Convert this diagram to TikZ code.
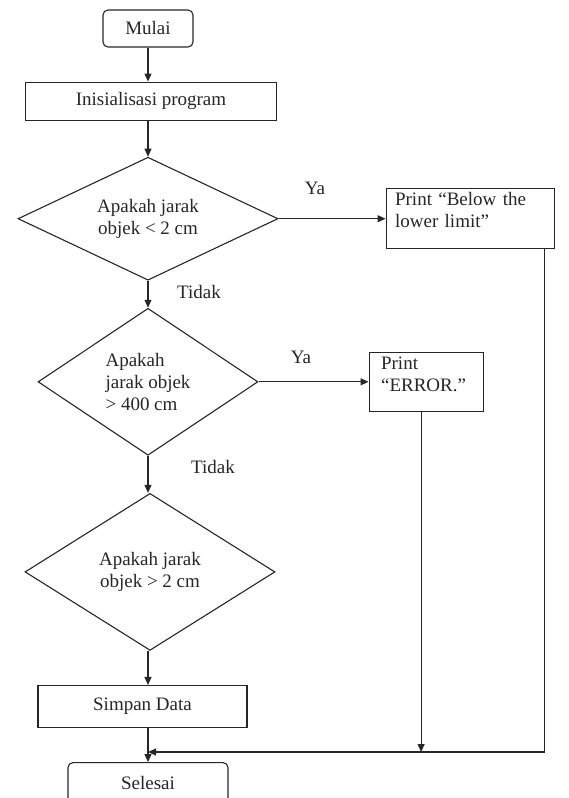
\documentclass[tikz,border=0pt]{standalone}
\usepackage{fontspec}
\setmainfont{Liberation Serif}
\usepackage{tikz}
\usetikzlibrary{arrows.meta, positioning, shapes.geometric}

\tikzset{
    garis/.style={draw=black!85, line width=1.1pt},
    terminal/.style={garis, rounded corners=5pt, minimum width=90pt, minimum height=37pt},
    proses/.style={garis, minimum height=40pt},
    keputusan/.style={garis, diamond, aspect=2, inner sep=0pt, align=center},
    cetak/.style={garis, align=left, inner xsep=9pt, text height=13.5pt},
    >={Triangle[length=8pt,width=7pt]}
}

\begin{document}
\begin{tikzpicture}[x=1pt, y=1pt, font=\fontsize{19}{22}\selectfont, text=black!85]
    \useasboundingbox (0,0) rectangle (568,-798);
    \node (mulai) [terminal] at (148,-28.5) {Mulai};
    \node (init) [proses, minimum width=251pt, minimum height=38pt, below=34pt of mulai, xshift=3pt] {Inisialisasi program};
    \node (d1) [keputusan, minimum width=260pt, minimum height=123pt, below=36pt of init, xshift=-3pt] {Apakah jarak\\objek < 2 cm};
    \node (d2) [keputusan, align=left, minimum width=220pt, minimum height=147pt, below=27pt of d1] {Apakah\\jarak objek\\> 400 cm};
    \node (d3) [keputusan, minimum width=250pt, minimum height=157pt, below=37pt of d2, xshift=2pt] {Apakah jarak\\objek > 2 cm};
    \node (simpan) [proses, minimum width=209pt, minimum height=42pt, below=34pt of d3, xshift=-7.5pt] {Simpan Data};
    \node (selesai) [terminal, minimum width=160pt, minimum height=40pt, below=34pt of simpan, xshift=5.5pt] {Selesai};
    \node (batas) [cetak, text width=150pt, text depth=40pt, right=107pt of d1] {Print “Below the\\lower limit”};
    \node (error) [cetak, inner xsep=12pt, text width=90pt, text depth=39pt, right=110pt of d2] {Print\\“ERROR.”};
    \node (ya1) at (315,-188) {Ya};
    \node (ya2) at (301,-357) {Ya};
    \node (tidak1) at (199,-292) {Tidak};
    \node (tidak2) at (213,-467) {Tidak};
    \coordinate (gabung) at (148,-752);
    \draw[garis, ->] (mulai) -- (mulai |- init.north);
    \draw[garis, ->] (d1 |- init.south) -- (d1);
    \draw[garis, ->] (d1) -- (d2);
    \draw[garis, ->] (d1.east) -- (batas);
    \draw[garis, ->] (d2.east) -- (error);
    \draw[garis, ->] (d2) -- (d2 |- d3.north);
    \draw[garis, ->] (d2 |- d3.south) -- (d2 |- simpan.north);
    \draw[garis, ->] (gabung |- simpan.south) -- (gabung |- selesai.north);
    \draw[garis, ->] ([xshift=-10pt]batas.south east) |- (gabung);
    \draw[garis, ->] ([xshift=-5pt]error.south) -- ([xshift=-5pt]error.south |- gabung);
\end{tikzpicture}
\end{document}
